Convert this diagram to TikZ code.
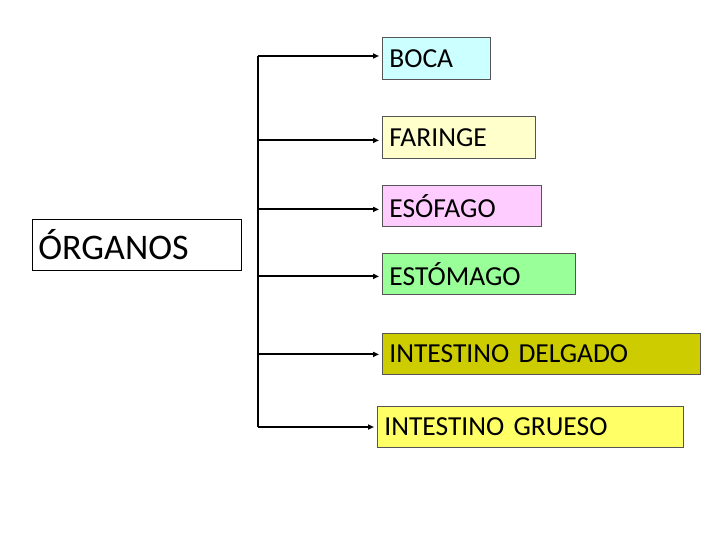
\documentclass[tikz,border=0pt]{standalone}
\usepackage{fontspec}
\setmainfont{Carlito}
\usetikzlibrary{arrows.meta}
\definecolor{cboca}{HTML}{CCFFFF}
\definecolor{cfar}{HTML}{FFFFCC}
\definecolor{ceso}{HTML}{FFCCFF}
\definecolor{cest}{HTML}{99FF99}
\definecolor{cdel}{HTML}{CCCC00}
\definecolor{cgru}{HTML}{FFFF66}
\definecolor{bordergray}{HTML}{555555}
\tikzset{
  organ/.style={draw=bordergray, line width=0.8pt, anchor=north west, align=left,
    inner xsep=7pt, inner ysep=0pt, minimum height=41pt,
    font=\fontsize{27.5}{32}\selectfont, text depth=0pt},
  conn/.style={line width=2pt},
  arr/.style={line width=2pt, -{Triangle[length=6pt,width=5pt]}, shorten >=3pt}
}
\begin{document}
\begin{tikzpicture}[x=1pt,y=-1pt]
\useasboundingbox (0,0) rectangle (720,540);
\node[draw=black, line width=0.8pt, anchor=north west, minimum width=209pt, minimum height=51pt,
  text width=197pt, inner xsep=6pt, inner ysep=0pt, align=left,
  font=\fontsize{36}{40}\selectfont] (org) at (32,219) {ÓRGANOS};
\node[organ, fill=cboca, text width=94pt, minimum height=42pt] (boca) at (382,37) {BOCA};
\node[organ, fill=cfar, text width=139pt, minimum height=42pt] (far) at (382,116) {FARINGE};
\node[organ, fill=ceso, text width=145pt] (eso) at (382,185) {ESÓFAGO};
\node[organ, fill=cest, text width=179pt] (est) at (382,253) {ESTÓMAGO};
\node[organ, fill=cdel, text width=304pt] (del) at (382,333) {INTESTINO DELGADO};
\node[organ, fill=cgru, text width=292pt] (gru) at (377,406) {INTESTINO GRUESO};
\coordinate (top) at (258,56);
\coordinate (bot) at (258,427);
\draw[conn] (top) -- (bot);
\draw[arr] (top) -- (top -| boca.west);
\draw[arr] ([yshift=-3pt]far.west -| top) -- ([yshift=-3pt]far.west);
\draw[arr] ([yshift=-3.5pt]eso.west -| top) -- ([yshift=-3.5pt]eso.west);
\draw[arr] ([yshift=-2.5pt]est.west -| top) -- ([yshift=-2.5pt]est.west);
\draw[arr] ([yshift=-0.5pt]del.west -| top) -- ([yshift=-0.5pt]del.west);
\draw[arr] (bot) -- (bot -| gru.west);
\end{tikzpicture}
\end{document}
